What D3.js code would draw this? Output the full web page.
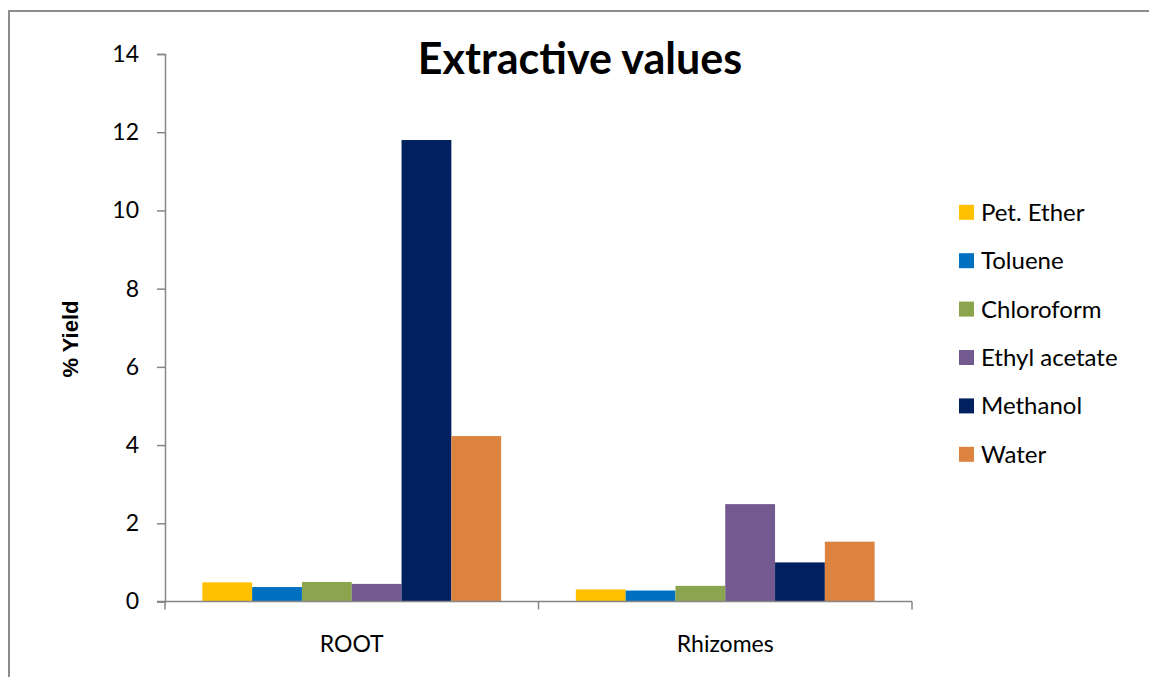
<html>
<meta charset="utf-8">
<script src="https://d3js.org/d3.v7.min.js"></script>
<style>
  body { margin: 0; background: #fff; }
  text { font-family: Lato, "Open Sans", sans-serif; fill: #000; }
</style>
<body>
<script>
const categories = ["ROOT", "Rhizomes"];
const solvents = ["Pet. Ether", "Toluene", "Chloroform", "Ethyl acetate", "Methanol", "Water"];
const rootValues = [0.49, 0.37, 0.50, 0.45, 11.8, 4.23];
const rhizomeValues = [0.31, 0.28, 0.40, 2.49, 1.0, 1.53];
const yTicks = [0, 2, 4, 6, 8, 10, 12, 14];
const colors = ["#FFC000", "#0070C0", "#8BA54E", "#725990", "#002060", "#DC8340"];

const rows = [];
categories.forEach((c, i) => {
  const vals = i === 0 ? rootValues : rhizomeValues;
  solvents.forEach((s, j) => rows.push({ cat: c, solvent: s, value: vals[j] }));
});

const W = 1149, H = 677;
const plot = { left: 165, right: 912, top: 54, bottom: 601.5 };

const svg = d3.select('body').append('svg')
  .attr('width', W)
  .attr('height', H);

// outer chart frame (runs off the page on right and bottom)
svg.append('rect')
  .attr('x', 9).attr('y', 11)
  .attr('width', W + 20).attr('height', H + 20)
  .attr('fill', 'none')
  .attr('stroke', '#8c8c8c')
  .attr('stroke-width', 2);

const x0 = d3.scaleBand()
  .domain(categories)
  .range([plot.left, plot.right])
  .paddingInner(0.2)
  .paddingOuter(0.1);

const x1 = d3.scaleBand()
  .domain(solvents)
  .range([0, x0.bandwidth()]);

const y = d3.scaleLinear()
  .domain([0, 14])
  .range([plot.bottom, plot.top]);

const color = d3.scaleOrdinal().domain(solvents).range(colors);

// bars
svg.append('g').selectAll('rect').data(rows)
  .enter()
  .append('rect')
  .attr('x', d => x0(d.cat) + x1(d.solvent))
  .attr('width', x1.bandwidth())
  .attr('y', d => y(d.value))
  .attr('height', d => y(0) - y(d.value))
  .attr('fill', d => color(d.solvent));

// y axis
const yAxis = svg.append('g')
  .attr('transform', `translate(${plot.left},0)`)
  .call(d3.axisLeft(y).tickValues(yTicks).tickSize(8).tickPadding(18).tickFormat(d3.format('d')));
yAxis.selectAll('line, path').attr('stroke', '#868686').attr('stroke-width', 1.5);
yAxis.selectAll('text').attr('font-size', 23).attr('font-family', 'Lato').attr('fill', '#000');

// x axis: ticks at category boundaries
const xAxisG = svg.append('g')
  .attr('transform', `translate(0,${plot.bottom})`);
xAxisG.append('line')
  .attr('x1', plot.left - 8).attr('x2', plot.right)
  .attr('stroke', '#868686').attr('stroke-width', 1.5);
const bounds = [plot.left, (x0('ROOT') + x0.bandwidth() + x0('Rhizomes')) / 2, plot.right];
xAxisG.selectAll('.xt').data(bounds)
  .enter().append('line')
  .attr('x1', d => d).attr('x2', d => d)
  .attr('y1', 0).attr('y2', 8)
  .attr('stroke', '#868686').attr('stroke-width', 1.5);
xAxisG.selectAll('.xl').data(categories)
  .enter().append('text')
  .attr('x', d => x0(d) + x0.bandwidth() / 2)
  .attr('y', 50)
  .attr('text-anchor', 'middle')
  .attr('font-size', 23)
  .text(d => d);

// title
svg.append('text')
  .attr('x', 580).attr('y', 74)
  .attr('text-anchor', 'middle')
  .attr('font-size', 43)
  .attr('font-weight', 'bold')
  .text('Extractive values');

// y label
svg.append('text')
  .attr('transform', 'translate(78,339) rotate(-90)')
  .attr('text-anchor', 'middle')
  .style('font-family', '"Liberation Sans", Arial, sans-serif')
  .attr('font-size', 22)
  .attr('font-weight', 'bold')
  .text('% Yield');

// legend
const legend = svg.append('g').selectAll('g').data(solvents)
  .enter().append('g')
  .attr('transform', (d, i) => `translate(959,${212.3 + i * 48.4})`);
legend.append('rect')
  .attr('x', 0).attr('y', -7.5)
  .attr('width', 15).attr('height', 15)
  .attr('fill', d => color(d));
legend.append('text')
  .attr('x', 22).attr('y', 0)
  .attr('dy', '0.35em')
  .attr('font-size', 24)
  .text(d => d);
</script>
</body>
</html>
